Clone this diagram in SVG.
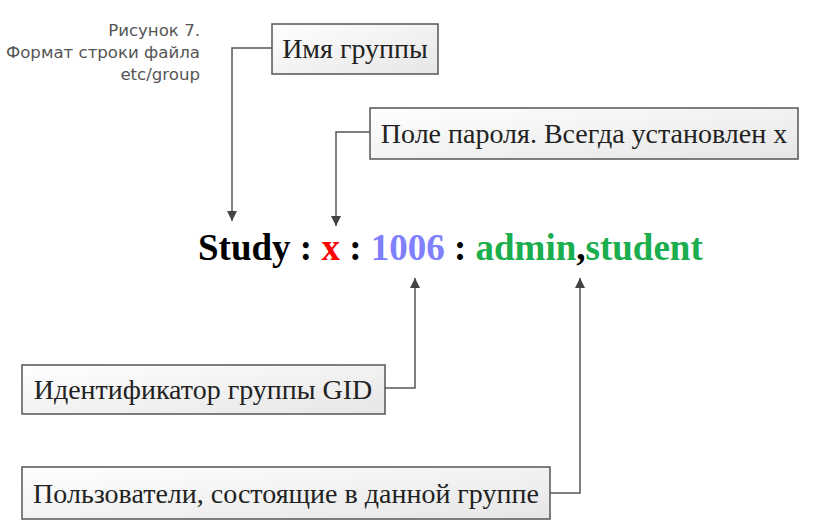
<svg xmlns="http://www.w3.org/2000/svg" width="814" height="532" viewBox="0 0 814 532">
<defs>
<linearGradient id="bg" x1="0" y1="0" x2="1" y2="1">
<stop offset="0" stop-color="#ffffff"/>
<stop offset="1" stop-color="#e6e6e6"/>
</linearGradient>
<marker id="ah" viewBox="0 0 10 10" refX="10" refY="5" markerWidth="10" markerHeight="10" markerUnits="userSpaceOnUse" orient="auto">
<path d="M0,0 L10,5 L0,10 z" fill="#444"/>
</marker>
<style>
.box{fill:url(#bg);stroke:#555;stroke-width:1.5}
.bt{font-family:"Liberation Serif",serif;font-size:28px;fill:#222;text-anchor:middle}
.cap{font-family:"DejaVu Sans","Noto Sans",sans-serif;font-size:16.6px;fill:#555;text-anchor:end}
.con{fill:none;stroke:#555;stroke-width:1.5}
.main{font-family:"Liberation Serif",serif;font-size:37px;font-weight:bold}
</style>
</defs>
<g id="caption">
<text class="cap" x="200" y="36">Рисунок 7.</text>
<text class="cap" x="200" y="58">Формат строки файла</text>
<text class="cap" x="200" y="80">etc/group</text>
</g>
<g id="connectors">
<path class="con" d="M272,48 H232 V221" marker-end="url(#ah)"/>
<path class="con" d="M370,132 H336 V226" marker-end="url(#ah)"/>
<path class="con" d="M385,388 H415 V278" marker-end="url(#ah)"/>
<path class="con" d="M550,493 H580 V278" marker-end="url(#ah)"/>
</g>
<g id="n-name">
<rect class="box" x="272" y="24" width="166" height="50"/>
<text class="bt" x="355" y="58">Имя группы</text>
</g>
<g id="n-pass">
<rect class="box" x="370" y="108" width="428" height="51"/>
<text class="bt" x="584" y="143">Поле пароля. Всегда установлен х</text>
</g>
<g id="n-record">
<text class="main" x="198" y="260"><tspan fill="#000">Study : </tspan><tspan fill="#ff0000">x</tspan><tspan fill="#000"> : </tspan><tspan fill="#8080ff">1006</tspan><tspan fill="#000"> : </tspan><tspan fill="#1aae4e">admin</tspan><tspan fill="#000">,</tspan><tspan fill="#1aae4e">student</tspan></text>
</g>
<g id="n-gid">
<rect class="box" x="22" y="365" width="363" height="49"/>
<text class="bt" x="203" y="399">Идентификатор группы GID</text>
</g>
<g id="n-users">
<rect class="box" x="22" y="467" width="528" height="52"/>
<text class="bt" x="286" y="503">Пользователи, состоящие в данной группе</text>
</g>
</svg>
